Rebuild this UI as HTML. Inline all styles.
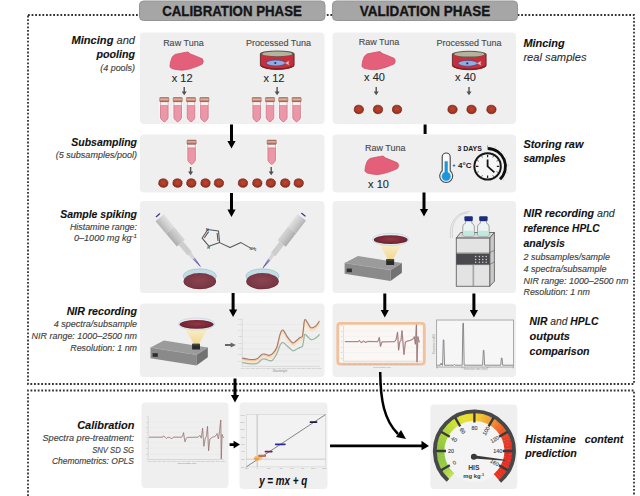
<!DOCTYPE html>
<html><head><meta charset="utf-8">
<style>
html,body{margin:0;padding:0;background:#fff;width:640px;height:496px;overflow:hidden}
svg{display:block}
text{font-family:"Liberation Sans",sans-serif}
.h{font-weight:bold;font-style:italic;font-size:11px;fill:#111;stroke:#111;stroke-width:0.1}
.hn{font-weight:normal;font-style:italic;fill:#333}
.s{font-style:italic;font-size:9px;fill:#424242;stroke:#424242;stroke-width:0.15}
.lab{font-size:9px;fill:#4a4a4a;stroke:#4a4a4a;stroke-width:0.12}
.x{font-size:11px;fill:#2a2a2a;stroke:#2a2a2a;stroke-width:0.12}
</style></head>
<body>
<svg width="640" height="496" viewBox="0 0 640 496">
<defs>
  <linearGradient id="pipg" x1="0" y1="0" x2="0" y2="1"><stop offset="0" stop-color="#e2e2e2"/><stop offset="0.45" stop-color="#cfcfcf"/><stop offset="1" stop-color="#b4b4b4"/></linearGradient><linearGradient id="pipg2" x1="0" y1="0" x2="0" y2="1"><stop offset="0" stop-color="#d6d6d6"/><stop offset="0.5" stop-color="#c4c4c4"/><stop offset="1" stop-color="#acacac"/></linearGradient>
  <linearGradient id="tipg" x1="0" y1="0" x2="1" y2="0"><stop offset="0" stop-color="#9a98d0"/><stop offset="1" stop-color="#3c3a8c"/></linearGradient>
  <radialGradient id="petg" cx="50%" cy="45%" r="60%"><stop offset="0" stop-color="#8a4450"/><stop offset="0.75" stop-color="#7a3844"/><stop offset="1" stop-color="#5e2834"/></radialGradient>
  <radialGradient id="dishg" cx="50%" cy="45%" r="60%"><stop offset="0" stop-color="#923646"/><stop offset="0.7" stop-color="#782634"/><stop offset="1" stop-color="#501a24"/></radialGradient>
  <linearGradient id="coneg" x1="0" y1="1" x2="0" y2="0"><stop offset="0" stop-color="#f2d88e"/><stop offset="1" stop-color="#faf1d8"/></linearGradient>
  <g id="pipette">
    <rect x="2.2" y="-7.8" width="1.7" height="15" fill="#f4f4f4" stroke="#dcdcdc" stroke-width="0.3"/>
    <rect x="0.2" y="-3" width="1.3" height="5.4" rx="0.5" fill="#3a3a88"/>
    <rect x="3.9" y="-5.4" width="16" height="10.8" fill="url(#pipg)"/>
    <rect x="19.9" y="-5.2" width="17" height="10.4" fill="url(#pipg2)"/>
    <rect x="36.9" y="-2.8" width="13.8" height="5.6" fill="#cdcdcd"/>
    <path d="M50.7 -1.8L57.2 -1.5V1.5L50.7 1.8Z" fill="#d4d4d4"/>
    <path d="M57.2 -1.4L67.6 -0.3V0.3L57.2 1.4Z" fill="url(#tipg)"/>
  </g>
  <g id="petri">
    <ellipse cx="0" cy="10" rx="17.6" ry="10.2" fill="#fff" opacity="0.5"/>
    <ellipse cx="0" cy="6.6" rx="16.6" ry="7.5" fill="#c2dde6" stroke="#98b8c6" stroke-width="0.6"/>
    <ellipse cx="0" cy="11.45" rx="16.3" ry="8.15" fill="url(#petg)"/>
  </g>
  <g id="nir">
    <!-- local origin = (340,225) of row3 device -->
    <path d="M4.6 37.9L18 31L61.9 37.9L50.5 45.1Z" fill="#9b9b9b"/>
    <path d="M4.6 37.9L50.5 45.1V55.9L4.6 48.7Z" fill="#8a8a8a"/>
    <path d="M50.5 45.1L61.9 37.9V47.7L50.5 55.9Z" fill="#727272"/>
    <path d="M4.6 37.9L50.5 45.1L61.9 37.9" fill="none" stroke="#a8a8a8" stroke-width="0.5"/>
    <rect x="6.7" y="43.6" width="5.2" height="3.6" fill="#2e2e2e"/>
    <path d="M37.6 16.5L63.6 16.5L53 34.2L47.8 34.2Z" fill="url(#coneg)"/>
    <ellipse cx="50.7" cy="14.4" rx="18.3" ry="6.1" fill="#e2eef4" stroke="#b7c7d6" stroke-width="0.5"/>
    <ellipse cx="50.7" cy="14.7" rx="16.9" ry="4.4" fill="url(#dishg)"/>
    <rect x="46.2" y="34.2" width="7.9" height="5.8" rx="0.6" fill="#2a2a2a"/>
    <rect x="46.2" y="34.2" width="7.9" height="1.6" fill="#454545"/>
  </g>

  <radialGradient id="ballg" cx="50%" cy="45%" r="55%"><stop offset="0" stop-color="#bf442e"/><stop offset="0.7" stop-color="#a63826"/><stop offset="1" stop-color="#7e2a1c"/></radialGradient>
  <linearGradient id="capg" x1="0" y1="0" x2="0" y2="1"><stop offset="0" stop-color="#a86a58"/><stop offset="0.45" stop-color="#e2b4a0"/><stop offset="1" stop-color="#9c5c4a"/></linearGradient>
  <g id="ball"><ellipse cx="0" cy="0" rx="5.6" ry="5" fill="#fff" opacity="0.5"/><path d="M-4.6 -0.6L-3.8 -3L-1.6 -4.2L0.6 -4.3L2.9 -3.6L4.5 -1.6L4.7 0.6L3.8 2.8L1.6 4.1L-0.8 4.2L-3 3.4L-4.5 1.6Z" fill="url(#ballg)" stroke="#72261a" stroke-width="0.7" stroke-linejoin="round"/></g>
  <g id="tube">
    <path d="M-5.2 -0.8H5.2V21L0 26L-5.2 21Z" fill="#fff" opacity="0.55"/>
    <path d="M-3.8 7.8V20.4C-3.8 21.3 -0.8 24.4 0 24.4C0.8 24.4 3.8 21.3 3.8 20.4V7.8Z" fill="#ec97a8" stroke="#c86a7c" stroke-width="0.7"/>
    <rect x="-3.8" y="4.2" width="7.6" height="3.6" fill="#fbf1f1" stroke="#d98b98" stroke-width="0.6"/>
    <rect x="-4.6" y="0" width="9.2" height="4.2" rx="0.6" fill="url(#capg)" stroke="#8c5444" stroke-width="0.5"/>
  </g>
  <g id="sarr" fill="#505050"><rect x="-0.7" y="0" width="1.4" height="5.2"/><path d="M-2.5 4.6H2.5L0 8.2Z"/></g>
  <g id="blob"><path d="M0 13.5L0.7 9.4L2.4 4.7L5.1 2.4L9.8 1.4L15.2 0.4L17.8 0L20.5 2L27.3 4.7L32.3 6.8L33.3 9.4L32.3 12.1L28.6 13.8L23.2 15.8L17.2 17.5L11.8 18.2L5.8 17.5L1.7 16.5L0 14.8Z" fill="#e4607a" stroke="#d04e66" stroke-width="0.8" stroke-linejoin="round"/></g>
  <g id="can">
    <path d="M0.4 3.4V15.2C3 18 10 19.2 17.25 19.2C24.5 19.2 31.5 18 34.1 15.2V3.4Z" fill="#c52f3b" stroke="#4a1a1e" stroke-width="0.8"/>
    <path d="M0.6 15.3C3 17.6 10 18.6 17.25 18.6C24.5 18.6 31.5 17.6 33.9 15.3" fill="none" stroke="#8a1e26" stroke-width="1.4"/>
    <ellipse cx="17.25" cy="3.4" rx="16.9" ry="3.2" fill="#5c5a4e"/>
    <ellipse cx="17.25" cy="3.7" rx="15" ry="2.4" fill="#b4b49e"/>
    <ellipse cx="15.8" cy="12.8" rx="9.6" ry="2.9" fill="#8eaee2" stroke="#34468a" stroke-width="0.6"/>
    <path d="M25 12.8L29.2 10.6L28.6 12.8L29.2 15Z" fill="#f0c0c0" stroke="#c07070" stroke-width="0.4"/>
    <circle cx="15.3" cy="12.8" r="1.1" fill="#223070"/>
  </g>

  <marker id="ah" viewBox="0 0 10 10" refX="0" refY="5" markerWidth="1" markerHeight="1"><path d="M0 0L10 5L0 10z"/></marker>
</defs>
<!-- dotted frames -->
<g fill="none" stroke="#333" stroke-width="1.8" stroke-dasharray="1.8 1.8">
  <path d="M28 15H634V384H28Z"/>
  <path d="M28 496V390.5H634V496"/>
</g>
<!-- tabs -->
<rect x="139.5" y="1" width="185.5" height="19.5" rx="4" fill="#a6a6a6" stroke="#959595" stroke-width="1"/>
<rect x="332.5" y="1" width="185" height="19.5" rx="4" fill="#a6a6a6" stroke="#959595" stroke-width="1"/>
<text x="232" y="16.4" text-anchor="middle" textLength="139.7" lengthAdjust="spacingAndGlyphs" style="font-weight:bold;font-size:15.2px;fill:#151515;stroke:#151515;stroke-width:0.35">CALIBRATION PHASE</text>
<text x="425" y="16.4" text-anchor="middle" textLength="130.6" lengthAdjust="spacingAndGlyphs" style="font-weight:bold;font-size:15.2px;fill:#151515;stroke:#151515;stroke-width:0.35">VALIDATION PHASE</text>

<!-- panels -->
<g fill="#efefef">
  <rect x="140" y="32.5" width="184.5" height="91.5" rx="4"/>
  <rect x="332.5" y="32.5" width="183.5" height="91.5" rx="4"/>
  <rect x="140" y="134.5" width="184.5" height="58" rx="4"/>
  <rect x="332.5" y="134.5" width="183.5" height="58" rx="4"/>
  <rect x="140" y="201" width="184.5" height="92" rx="4"/>
  <rect x="332.5" y="201" width="183.5" height="92" rx="4"/>
  <rect x="140" y="303.5" width="184.5" height="73.5" rx="4"/>
  <rect x="332.5" y="303.5" width="183.5" height="73.5" rx="4"/>
  <rect x="141.5" y="402.5" width="87" height="85.5" rx="4"/>
  <rect x="239.5" y="402.5" width="88" height="86.5" rx="4"/>
  <rect x="430.3" y="404.5" width="87" height="84.5" rx="4"/>
</g>

<!-- left labels -->
<g text-anchor="end">
  <text class="h" x="135" y="44" textLength="63.5" lengthAdjust="spacingAndGlyphs">Mincing <tspan class="hn">and</tspan></text>
  <text class="h" x="135" y="58" textLength="38.5" lengthAdjust="spacingAndGlyphs">pooling</text>
  <text class="s" x="135" y="71" textLength="34.75" lengthAdjust="spacingAndGlyphs">(4 pools)</text>
  <text class="h" x="137" y="145.5" textLength="65.7" lengthAdjust="spacingAndGlyphs">Subsampling</text>
  <text class="s" x="137" y="157.5" textLength="81.2" lengthAdjust="spacingAndGlyphs">(5 subsamples/pool)</text>
  <text class="h" x="137" y="217.7" textLength="76.8" lengthAdjust="spacingAndGlyphs">Sample spiking</text>
  <text class="s" x="137" y="229.6" textLength="67.1" lengthAdjust="spacingAndGlyphs">Histamine range:</text>
  <text class="s" x="137" y="241.3" textLength="63.1" lengthAdjust="spacingAndGlyphs">0–1000 mg kg<tspan dy="-3" font-size="6">-1</tspan></text>
  <text class="h" x="137" y="315" textLength="70.3" lengthAdjust="spacingAndGlyphs">NIR recording</text>
  <text class="s" x="137" y="327.2" textLength="83.25" lengthAdjust="spacingAndGlyphs">4 spectra/subsample</text>
  <text class="s" x="137" y="339.4" textLength="105.4" lengthAdjust="spacingAndGlyphs">NIR range: 1000–2500 nm</text>
  <text class="s" x="137" y="350.6" textLength="66.75" lengthAdjust="spacingAndGlyphs">Resolution: 1 nm</text>
  <text class="h" x="134.4" y="428.75" textLength="57.2" lengthAdjust="spacingAndGlyphs">Calibration</text>
  <text class="s" x="134" y="441" textLength="91.5" lengthAdjust="spacingAndGlyphs">Spectra pre-treatment:</text>
  <text class="s" x="134" y="452.75" textLength="41.8" lengthAdjust="spacingAndGlyphs">SNV SD SG</text>
  <text class="s" x="134" y="464.4" textLength="82.1" lengthAdjust="spacingAndGlyphs">Chemometrics: OPLS</text>
</g>
<!-- right labels -->
<g>
  <text class="h" x="523.4" y="46.5" textLength="41.3" lengthAdjust="spacingAndGlyphs">Mincing</text>
  <text class="h hn" x="523.4" y="61" style="font-weight:normal" textLength="63.2" lengthAdjust="spacingAndGlyphs">real samples</text>
  <text class="h" x="523.4" y="147.8" textLength="60" lengthAdjust="spacingAndGlyphs">Storing raw</text>
  <text class="h" x="523.4" y="162.25" textLength="42.2" lengthAdjust="spacingAndGlyphs">samples</text>
  <text class="h" x="523.5" y="217.1" textLength="91.3" lengthAdjust="spacingAndGlyphs">NIR recording <tspan class="hn">and</tspan></text>
  <text class="h" x="523.5" y="232.3" textLength="76.2" lengthAdjust="spacingAndGlyphs">reference HPLC</text>
  <text class="h" x="523.5" y="246.8" textLength="41.4" lengthAdjust="spacingAndGlyphs">analysis</text>
  <text class="s" x="523.5" y="260.1" textLength="86.5" lengthAdjust="spacingAndGlyphs">2 subsamples/sample</text>
  <text class="s" x="523.5" y="271.6" textLength="83.1" lengthAdjust="spacingAndGlyphs">4 spectra/subsample</text>
  <text class="s" x="523.5" y="283.7" textLength="104.9" lengthAdjust="spacingAndGlyphs">NIR range: 1000–2500 nm</text>
  <text class="s" x="523.5" y="294.8" textLength="66.4" lengthAdjust="spacingAndGlyphs">Resolution: 1 nm</text>
  <text class="h" x="529.6" y="325.3" textLength="68.8" lengthAdjust="spacingAndGlyphs">NIR <tspan class="hn">and</tspan> HPLC</text>
  <text class="h" x="529.6" y="340.3">outputs</text>
  <text class="h" x="529.6" y="355.3" textLength="60" lengthAdjust="spacingAndGlyphs">comparison</text>
  <text class="h" x="525.3" y="442.5" textLength="50.7" lengthAdjust="spacingAndGlyphs">Histamine</text><text class="h" x="623.4" y="442.5" text-anchor="end" textLength="38.6" lengthAdjust="spacingAndGlyphs">content</text>
  <text class="h" x="525.3" y="456.6" textLength="51.6" lengthAdjust="spacingAndGlyphs">prediction</text>
</g>

<!-- panel labels -->
<g class="lab" text-anchor="middle">
  <text class="lab" x="183.4" y="45.6">Raw Tuna</text>
  <text class="lab" x="278.5" y="45.6">Processed Tuna</text>
  <text class="lab" x="379" y="45.2">Raw Tuna</text>
  <text class="lab" x="469" y="45.6">Processed Tuna</text>
  <text class="lab" x="385.2" y="151">Raw Tuna</text>
</g>
<g text-anchor="middle">
  <text class="x" x="182.2" y="81.6">x 12</text>
  <text class="x" x="274" y="81.6">x 12</text>
  <text class="x" x="374.5" y="81.2">x 40</text>
  <text class="x" x="465.5" y="81.2">x 40</text>
  <text class="x" x="378.5" y="187.6">x 10</text>
</g>


<!-- row1 icons -->
<use href="#blob" transform="translate(170 52)"/>
<use href="#blob" transform="translate(362 51.6)"/>
<use href="#blob" transform="translate(365 156) scale(1.01 1.02)"/>
<use href="#can" transform="translate(260 50.2)"/>
<use href="#can" transform="translate(452 50.5)"/>
<use href="#sarr" transform="translate(184.2 87)"/>
<use href="#sarr" transform="translate(277.1 87)"/>
<use href="#sarr" transform="translate(376.2 87)"/>
<use href="#sarr" transform="translate(469 87)"/>
<use href="#sarr" transform="translate(190.6 167)"/>
<use href="#sarr" transform="translate(271.2 167)"/>
<g>
<use href="#tube" transform="translate(164.3 97.5)"/>
<use href="#tube" transform="translate(177.7 97.5)"/>
<use href="#tube" transform="translate(191 97.5)"/>
<use href="#tube" transform="translate(204.4 97.5)"/>
<use href="#tube" transform="translate(256.7 97.5)"/>
<use href="#tube" transform="translate(270 97.5)"/>
<use href="#tube" transform="translate(283.3 97.5)"/>
<use href="#tube" transform="translate(296.6 97.5)"/>
<use href="#tube" transform="translate(191.6 140)"/>
<use href="#tube" transform="translate(271.7 140)"/>
</g>
<g>
<use href="#ball" transform="translate(358.8 109.5)"/>
<use href="#ball" transform="translate(378 109.5)"/>
<use href="#ball" transform="translate(397 109.5)"/>
<use href="#ball" transform="translate(452.5 109.5)"/>
<use href="#ball" transform="translate(471.5 109.5)"/>
<use href="#ball" transform="translate(491.4 109.5)"/>
<use href="#ball" transform="translate(163.3 183.1)"/>
<use href="#ball" transform="translate(177.5 183.1)"/>
<use href="#ball" transform="translate(191.3 183.1)"/>
<use href="#ball" transform="translate(205.5 183.1)"/>
<use href="#ball" transform="translate(218.9 183.1)"/>
<use href="#ball" transform="translate(242.9 183.1)"/>
<use href="#ball" transform="translate(257.3 183.1)"/>
<use href="#ball" transform="translate(270.8 183.1)"/>
<use href="#ball" transform="translate(285.2 183.1)"/>
<use href="#ball" transform="translate(298.7 183.1)"/>
</g>

<!-- thermometer -->
<g>
  <path d="M442.2 157V170.8A6.5 6.5 0 1 0 450.2 170.8V157A4 4 0 0 0 442.2 157Z" fill="#fafafa" stroke="#4a4a4a" stroke-width="1.15"/>
  <circle cx="446.2" cy="176.4" r="5.2" fill="#bfe4f6"/>
  <rect x="444.3" y="160.8" width="3.8" height="14" fill="#bfe4f6"/>
  <circle cx="446.2" cy="176.4" r="4.3" fill="#1e96dc"/>
  <rect x="444.7" y="161.4" width="3" height="14" fill="#1e96dc"/>
</g>
<text x="452.6" y="166.6" style="font-weight:bold;font-size:5px;fill:#1a1a1a">+</text><text x="458" y="167.5" style="font-weight:bold;font-size:7.9px;fill:#1a1a1a" textLength="13.4" lengthAdjust="spacingAndGlyphs">4°C</text>
<text x="457.4" y="151.3" style="font-weight:bold;font-size:7.7px;fill:#1a1a1a" textLength="24.5" lengthAdjust="spacingAndGlyphs">3 DAYS</text>
<!-- clock -->
<g transform="translate(487.6 166.4)">
  <circle r="13.2" fill="#f6f6f6" stroke="#161616" stroke-width="2"/>
  <g stroke="#222" stroke-width="1">
    <path d="M0 -11.6V-9.2M0 11.6V9.2M-11.6 0H-9.2M11.6 0H9.2" stroke-width="1.2"/>
    <path d="M5.9 -10.2L5.2 -9M10.2 -5.9L9 -5.2M10.2 5.9L9 5.2M5.9 10.2L5.2 9M-5.9 10.2L-5.2 9M-10.2 5.9L-9 5.2M-10.2 -5.9L-9 -5.2M-5.9 -10.2L-5.2 -9" stroke-width="0.8"/>
  </g>
  <path d="M0 -6.8V0L6.8 6" fill="none" stroke="#161616" stroke-width="1.8" stroke-linejoin="round"/>
  <path d="M0.2 -17.9A17.9 17.9 0 0 1 12.4 12.9" fill="none" stroke="#0d0d0d" stroke-width="2.8"/>
  <path d="M0 -21V-16.8" stroke="#888" stroke-width="0.8"/>
  <g stroke="#bbb" stroke-width="0.7">
    <path d="M7.2 -18.5L7.8 -20M13.4 -14.4L14.6 -15.6M17.6 -8L19 -8.6M19.7 -1L21.2 -1M19 6.2L20.4 6.7M15.4 13.2L16.5 14.2"/>
  </g>
</g>
<!-- pipettes -->
<use href="#pipette" transform="translate(157.2 214.8) rotate(50.1)"/>
<use href="#pipette" transform="translate(304.1 214.2) rotate(127.5) scale(1 -1)"/>
<use href="#petri" transform="translate(199.8 269.7)"/>
<use href="#petri" transform="translate(262.5 269.7)"/>
<!-- histamine -->
<g fill="none" stroke="#555" stroke-width="1.05" stroke-linejoin="round">
  <path d="M207.8 229.5L218.5 231.1L219.6 242.6L208.9 246.2L202.1 238.2Z"/>
  <path d="M208.6 231.6L204.3 238"/>
  <path d="M217.1 233L218 241"/>
  <path d="M219.6 242.6L230 247.5L240.9 242.6L249.8 247.6"/>
</g>
<g style="font-size:3.6px;fill:#444;font-weight:bold">
  <text x="206" y="230.8">N</text>
  <text x="207.3" y="248.8">H</text>
  <text x="249.6" y="250.2">NH<tspan font-size="2.6" dy="0.8">2</tspan></text>
</g>
<!-- NIR devices -->
<use href="#nir" transform="translate(340 225)"/>
<use href="#nir" transform="translate(145.9 309.6)"/>
<!-- HPLC -->
<g>
  <g fill="none" stroke="#c4c4c4" stroke-width="0.7">
    <path d="M468 213C456 214 451 224 452.5 238"/>
    <path d="M470 211.5C455 212 449 224 450.5 238"/>
  </g>
  <path d="M456.25 238.1L460.6 232.5H494.4L489.75 238.1Z" fill="#d6d6d6" stroke="#555" stroke-width="0.8" stroke-linejoin="round"/>
  <path d="M489.75 238.1L494.4 232.5V281.3L489.75 286.25Z" fill="#c9c9c9" stroke="#555" stroke-width="0.8" stroke-linejoin="round"/>
  <rect x="456.25" y="238.1" width="33.5" height="48.15" fill="#e3e3e3" stroke="#555" stroke-width="0.8"/>
  <rect x="456.25" y="253.6" width="33.5" height="10.9" fill="#4a4a4e"/>
  <path d="M456.25 253H489.75M456.25 264.6H489.75M489.75 252.6L494.4 250.4M489.75 264.6L494.4 261.8" stroke="#555" stroke-width="0.6"/>
  <path d="M473.2 264.6V286.2" stroke="#6a6a6a" stroke-width="0.8"/><path d="M474.2 264.6V286.2" stroke="#c8c8c8" stroke-width="0.6"/>
  <g fill="#cfcfd4">
    <circle cx="475.6" cy="256.5" r="0.75"/><circle cx="479.4" cy="256.5" r="0.75"/><circle cx="482.8" cy="256.5" r="0.75"/><circle cx="486.2" cy="256.5" r="0.75"/>
    <circle cx="475.6" cy="259.4" r="0.75"/><circle cx="479.4" cy="259.4" r="0.75"/><circle cx="482.8" cy="259.4" r="0.75"/><circle cx="486.2" cy="259.4" r="0.75"/>
    <circle cx="475.6" cy="262.3" r="0.75"/><circle cx="479.4" cy="262.3" r="0.75"/><circle cx="482.8" cy="262.3" r="0.75"/><circle cx="486.2" cy="262.3" r="0.75"/>
  </g>
  <g id="bottle">
    <path d="M465.6 221V223.2C463.5 224 462.8 225.5 462.8 227V234.2C462.8 235.3 463.5 236 464.6 236H472.6C473.6 236 474.3 235.3 474.3 234.2V227C474.3 225.5 473.6 224 471.8 223.2V221Z" fill="#eef4f4" stroke="#6a6a6a" stroke-width="0.6"/>
    <path d="M463.1 230.8H474V234.2C474 235.1 473.4 235.7 472.6 235.7H464.6C463.7 235.7 463.1 235.1 463.1 234.2Z" fill="#bfeadf"/>
    <rect x="464.4" y="216.2" width="8.4" height="4.9" rx="1" fill="#1e2a80"/>
  </g>
  <use href="#bottle" transform="translate(14.8 0)"/>
</g>
<!-- charts -->
<g transform="translate(236 310) scale(0.1375)">
<path d="M45 105H610M45 150H610M45 195H610M45 240H610M45 282H610M45 325H610M45 370H610" stroke="#e2e2e2" stroke-width="3" fill="none"/>
<path d="M45 60V410H610" stroke="#c8c8c8" stroke-width="4" fill="none"/>
<g style="font-size:16px;fill:#aaa" text-anchor="end"><text x='38' y='70'>1.8</text><text x='38' y='110'>1.6</text><text x='38' y='155'>1.4</text><text x='38' y='200'>1.2</text><text x='38' y='245'>1.0</text><text x='38' y='287'>0.8</text><text x='38' y='330'>0.6</text><text x='38' y='375'>0.4</text></g>
<g style="font-size:14px;fill:#aaa" text-anchor="middle"><text x='50' y='430'>1000</text><text x='87' y='430'>1100</text><text x='124' y='430'>1200</text><text x='161' y='430'>1300</text><text x='198' y='430'>1400</text><text x='235' y='430'>1500</text><text x='272' y='430'>1600</text><text x='309' y='430'>1700</text><text x='346' y='430'>1800</text><text x='383' y='430'>1900</text><text x='420' y='430'>2000</text><text x='457' y='430'>2100</text><text x='494' y='430'>2200</text><text x='531' y='430'>2300</text><text x='568' y='430'>2400</text><text x='605' y='430'>2500</text></g>
<text x="320" y="448" text-anchor="middle" style="font-size:20px;fill:#888">Wavelength</text>
<g fill="none" stroke-linejoin="round" stroke-linecap="round">
<path d="M48 368C55.0 369.3 76.3 374.3 90 376C103.7 377.7 118.3 379.3 130 378C141.7 376.7 150.0 374.3 160 368C170.0 361.7 180.8 344.7 190 340C199.2 335.3 206.7 338.7 215 340C223.3 341.3 231.7 348.7 240 348C248.3 347.3 255.8 345.2 265 336C274.2 326.8 286.2 315.2 295 293C303.8 270.8 311.7 224.2 318 203C324.3 181.8 328.0 171.5 333 166C338.0 160.5 341.8 163.0 348 170C354.2 177.0 362.2 196.3 370 208C377.8 219.7 387.5 231.7 395 240C402.5 248.3 407.5 258.0 415 258C422.5 258.0 431.7 246.7 440 240C448.3 233.3 457.8 223.3 465 218C472.2 212.7 478.5 221.3 483 208C487.5 194.7 489.5 157.2 492 138C494.5 118.8 495.3 101.0 498 93C500.7 85.0 503.5 85.8 508 90C512.5 94.2 518.8 108.7 525 118C531.2 127.3 538.3 141.8 545 146C551.7 150.2 558.3 145.7 565 143C571.7 140.3 578.3 137.2 585 130C591.7 122.8 601.7 105.0 605 100" stroke="#f7e3cb" stroke-width="18"/>
<path d="M48 382C55.0 383.3 76.3 388.3 90 390C103.7 391.7 118.3 392.8 130 392C141.7 391.2 150.0 390.7 160 385C170.0 379.3 180.8 362.7 190 358C199.2 353.3 206.7 355.3 215 357C223.3 358.7 231.7 366.7 240 368C248.3 369.3 255.8 372.7 265 365C274.2 357.3 286.2 339.2 295 322C303.8 304.8 311.7 276.0 318 262C324.3 248.0 328.0 241.7 333 238C338.0 234.3 341.8 236.3 348 240C354.2 243.7 362.2 253.0 370 260C377.8 267.0 387.5 275.7 395 282C402.5 288.3 407.5 297.5 415 298C422.5 298.5 431.7 289.3 440 285C448.3 280.7 457.8 275.3 465 272C472.2 268.7 478.5 273.7 483 265C487.5 256.3 489.5 233.8 492 220C494.5 206.2 495.3 188.7 498 182C500.7 175.3 503.5 177.3 508 180C512.5 182.7 518.8 192.2 525 198C531.2 203.8 538.3 212.7 545 215C551.7 217.3 558.3 214.5 565 212C571.7 209.5 578.3 205.3 585 200C591.7 194.7 601.7 183.3 605 180" stroke="#9ab4a0" stroke-width="9"/>
<path d="M48 358C55.0 359.3 76.3 364.3 90 366C103.7 367.7 118.3 369.3 130 368C141.7 366.7 150.0 364.3 160 358C170.0 351.7 180.8 334.7 190 330C199.2 325.3 206.7 328.7 215 330C223.3 331.3 231.7 338.7 240 338C248.3 337.3 255.8 335.2 265 326C274.2 316.8 286.2 305.2 295 283C303.8 260.8 311.7 214.2 318 193C324.3 171.8 328.0 161.5 333 156C338.0 150.5 341.8 153.0 348 160C354.2 167.0 362.2 186.3 370 198C377.8 209.7 387.5 221.7 395 230C402.5 238.3 407.5 248.0 415 248C422.5 248.0 431.7 236.7 440 230C448.3 223.3 457.8 213.3 465 208C472.2 202.7 478.5 211.3 483 198C487.5 184.7 489.5 147.2 492 128C494.5 108.8 495.3 91.0 498 83C500.7 75.0 503.5 75.8 508 80C512.5 84.2 518.8 98.7 525 108C531.2 117.3 538.3 131.8 545 136C551.7 140.2 558.3 135.7 565 133C571.7 130.3 578.3 127.2 585 120C591.7 112.8 601.7 95.0 605 90" stroke="#eec092" stroke-width="7"/>
<path d="M48 350C55.0 351.3 76.3 356.3 90 358C103.7 359.7 118.3 361.3 130 360C141.7 358.7 150.0 356.3 160 350C170.0 343.7 180.8 326.7 190 322C199.2 317.3 206.7 320.7 215 322C223.3 323.3 231.7 330.7 240 330C248.3 329.3 255.8 327.2 265 318C274.2 308.8 286.2 297.2 295 275C303.8 252.8 311.7 206.2 318 185C324.3 163.8 328.0 153.5 333 148C338.0 142.5 341.8 145.0 348 152C354.2 159.0 362.2 178.3 370 190C377.8 201.7 387.5 213.7 395 222C402.5 230.3 407.5 240.0 415 240C422.5 240.0 431.7 228.7 440 222C448.3 215.3 457.8 205.3 465 200C472.2 194.7 478.5 203.3 483 190C487.5 176.7 489.5 139.2 492 120C494.5 100.8 495.3 83.0 498 75C500.7 67.0 503.5 67.8 508 72C512.5 76.2 518.8 90.7 525 100C531.2 109.3 538.3 123.8 545 128C551.7 132.2 558.3 127.7 565 125C571.7 122.3 578.3 119.2 585 112C591.7 104.8 601.7 87.0 605 82" stroke="#a47a6e" stroke-width="8"/>
</g></g>
<g transform="translate(140 400) scale(0.18146)">
<path d="M45 120H462M45 150H462M45 178H462M45 235H462M45 265H462M45 298H462" stroke="#e6e6e6" stroke-width="2.5" fill="none"/>
<path d="M45 90V328H462" stroke="#c8c8c8" stroke-width="3.5" fill="none"/>
<g style="font-size:11px;fill:#aaa" text-anchor="end"><text x='40' y='96'>4</text><text x='40' y='124'>3</text><text x='40' y='154'>2</text><text x='40' y='182'>1</text><text x='40' y='209'>0</text><text x='40' y='239'>-1</text><text x='40' y='269'>-2</text><text x='40' y='302'>-3</text><text x='40' y='332'>-4</text></g>
<g style="font-size:10px;fill:#aaa" text-anchor="middle"><text x='52' y='340'>1000</text><text x='79' y='340'>1100</text><text x='106' y='340'>1200</text><text x='133' y='340'>1300</text><text x='160' y='340'>1400</text><text x='187' y='340'>1500</text><text x='214' y='340'>1600</text><text x='241' y='340'>1700</text><text x='268' y='340'>1800</text><text x='295' y='340'>1900</text><text x='322' y='340'>2000</text><text x='349' y='340'>2100</text><text x='376' y='340'>2200</text><text x='403' y='340'>2300</text><text x='430' y='340'>2400</text><text x='457' y='340'>2500</text></g>
<text x="258" y="352" text-anchor="middle" style="font-size:14px;fill:#888">Wavelength (nm)</text>
<path d="M50 205L125 205L130 198L138 205L145 212L153 206L160 205L168 210L175 212L185 205L230 205L236 195L240 180L245 215L248 230L255 210L262 206L320 205L330 195L338 210L345 155L352 255L360 210L366 200L372 145L378 280L385 215L400 205L415 200L425 185L432 215L438 175L445 110L448 325L452 190L458 205L462 210" fill="none" stroke="#c89898" stroke-width="5" stroke-linejoin="round" opacity="0.6"/>
<path d="M50 205L125 205L130 198L138 205L145 212L153 206L160 205L168 210L175 212L185 205L230 205L236 195L240 180L245 215L248 230L255 210L262 206L320 205L330 195L338 210L345 155L352 255L360 210L366 200L372 145L378 280L385 215L400 205L415 200L425 185L432 215L438 175L445 110L448 325L452 190L458 205L462 210" fill="none" stroke="#86706c" stroke-width="3.2" stroke-linejoin="round"/>
</g>
<g transform="translate(333 310) scale(0.14843)">
<rect x="32" y="90" width="583" height="275" rx="18" fill="#faf7f5" stroke="#f2c19c" stroke-width="19"/>
<path d="M70 105V345H600" stroke="#c8c8c8" stroke-width="4" fill="none"/>
<path d="M70 140H600M70 178H600M70 250H600M70 288H600" stroke="#ececec" stroke-width="3"/>
<g style="font-size:14px;fill:#aaa" text-anchor="end"><text x='62' y='110'>3</text><text x='62' y='145'>2</text><text x='62' y='183'>1</text><text x='62' y='218'>0</text><text x='62' y='255'>-1</text><text x='62' y='293'>-2</text><text x='62' y='330'>-3</text></g>
<g style="font-size:12px;fill:#aaa" text-anchor="middle"><text x='75' y='368'>1000</text><text x='110' y='368'>1100</text><text x='145' y='368'>1200</text><text x='180' y='368'>1300</text><text x='215' y='368'>1400</text><text x='250' y='368'>1500</text><text x='285' y='368'>1600</text><text x='320' y='368'>1700</text><text x='355' y='368'>1800</text><text x='390' y='368'>1900</text><text x='425' y='368'>2000</text><text x='460' y='368'>2100</text><text x='495' y='368'>2200</text><text x='530' y='368'>2300</text><text x='565' y='368'>2400</text></g>
<text x="330" y="392" text-anchor="middle" style="font-size:16px;fill:#999">Wavelength (nm)</text>
<path d="M80 213L170 213L178 206L190 220L205 210L220 218L235 212L300 213L305 205L312 185L320 245L330 215L415 213L425 200L435 150L442 270L450 215L458 205L465 140L478 300L488 215L500 210L520 205L540 195L548 180L555 230L562 100L566 350L572 180L580 215L585 213" fill="none" stroke="#c89090" stroke-width="9" stroke-linejoin="round" opacity="0.6"/>
<path d="M80 213L170 213L178 206L190 220L205 210L220 218L235 212L300 213L305 205L312 185L320 245L330 215L415 213L425 200L435 150L442 270L450 215L458 205L465 140L478 300L488 215L500 210L520 205L540 195L548 180L555 230L562 100L566 350L572 180L580 215L585 213" fill="none" stroke="#846e6c" stroke-width="4.5" stroke-linejoin="round"/>
</g>
<g transform="translate(428 310) scale(0.13906)">
<rect x="62" y="72" width="553" height="338" fill="#f6f6f6" stroke="#9a9a9a" stroke-width="6"/>
<path d="M66 397L88 397L95 382L100 397L105 397L110 215L114 215L119 397L185 397L190 392L195 397L246 397L251 95L255 95L260 397L393 397L398 290L402 290L407 397L523 397L528 345L532 345L537 397L612 397" fill="none" stroke="#808080" stroke-width="6.5" stroke-linejoin="round"/>
<path d="M65 410V420M245 410V420M430 410V420M612 410V420" stroke="#888" stroke-width="5"/>
<text x="342" y="432" text-anchor="middle" style="font-size:19px;fill:#999">Retention time (min)</text>
<text transform="translate(50 245) rotate(-90)" text-anchor="middle" style="font-size:19px;fill:#999">Response (mAU)</text>
</g>
<g transform="translate(240 405) scale(0.14063)">
<rect x="45" y="68" width="563" height="372" fill="#f2f2f2" stroke="#d0d0d0" stroke-width="4"/>
<path d="M122 68V440" stroke="#9a9a9a" stroke-width="4"/>
<path d="M45 385H608" stroke="#b0b0b0" stroke-width="4"/>
<path d="M45 440L608 68" stroke="#707070" stroke-width="6"/>
<g style="font-size:14px;fill:#999" text-anchor="end"><text x='32' y='75'>1400</text><text x='32' y='127'>1200</text><text x='32' y='180'>1000</text><text x='32' y='233'>800</text><text x='32' y='285'>600</text><text x='32' y='337'>400</text><text x='32' y='390'>200</text><text x='32' y='445'>-200</text></g>
<g style="font-size:14px;fill:#999" text-anchor="middle"><text x='45' y='458'>-200</text><text x='122' y='458'>0</text><text x='205' y='458'>200</text><text x='290' y='458'>400</text><text x='370' y='458'>600</text><text x='445' y='458'>800</text><text x='520' y='458'>1000</text><text x='600' y='458'>1200</text></g>
<ellipse cx="128" cy="378" rx="30" ry="17" fill="#f6c070" opacity="0.9"/>
<ellipse cx="118" cy="384" rx="18" ry="10" fill="#e8a040" opacity="0.9"/>
<rect x="130" y="354" width="55" height="14" rx="6" fill="#b84a28"/>
<rect x="135" y="357" width="45" height="8" fill="#e07a40"/>
<rect x="175" y="326" width="57" height="12" rx="5" fill="#7a2060"/>
<rect x="248" y="274" width="77" height="12" rx="5" fill="#2a2aa0"/>
<rect x="495" y="116" width="55" height="12" rx="5" fill="#1a1a40"/>
</g>
<!-- gauge -->
<g><circle cx="474.4" cy="451.0" r="31" fill="#f4f4f4"/><g fill="none" stroke-width="8"><path d="M451.65 476.27A34.0 34.0 0 0 1 449.35 473.99" stroke="rgb(193, 225, 87)"/><path d="M449.55 474.20A34.0 34.0 0 0 1 447.45 471.73" stroke="rgb(181, 219, 82)"/><path d="M447.63 471.97A34.0 34.0 0 0 1 445.76 469.32" stroke="rgb(168, 213, 77)"/><path d="M445.92 469.57A34.0 34.0 0 0 1 444.28 466.77" stroke="rgb(156, 208, 72)"/><path d="M444.42 467.04A34.0 34.0 0 0 1 443.03 464.11" stroke="rgb(149, 204, 69)"/><path d="M443.14 464.38A34.0 34.0 0 0 1 442.01 461.35" stroke="rgb(147, 203, 67)"/><path d="M442.10 461.63A34.0 34.0 0 0 1 441.24 458.50" stroke="rgb(145, 201, 66)"/><path d="M441.31 458.79A34.0 34.0 0 0 1 440.71 455.61" stroke="rgb(143, 200, 65)"/><path d="M440.75 455.90A34.0 34.0 0 0 1 440.44 452.67" stroke="rgb(142, 199, 63)"/><path d="M440.46 452.97A34.0 34.0 0 0 1 440.42 449.73" stroke="rgb(140, 198, 62)"/><path d="M440.41 450.03A34.0 34.0 0 0 1 440.66 446.79" stroke="rgb(144, 199, 61)"/><path d="M440.63 447.09A34.0 34.0 0 0 1 441.15 443.89" stroke="rgb(149, 202, 61)"/><path d="M441.09 444.18A34.0 34.0 0 0 1 441.89 441.04" stroke="rgb(154, 204, 61)"/><path d="M441.81 441.32A34.0 34.0 0 0 1 442.88 438.26" stroke="rgb(159, 206, 60)"/><path d="M442.77 438.54A34.0 34.0 0 0 1 444.10 435.58" stroke="rgb(163, 209, 60)"/><path d="M443.96 435.85A34.0 34.0 0 0 1 445.54 433.02" stroke="rgb(168, 211, 60)"/><path d="M445.39 433.27A34.0 34.0 0 0 1 447.21 430.59" stroke="rgb(175, 213, 59)"/><path d="M447.03 430.83A34.0 34.0 0 0 1 449.08 428.31" stroke="rgb(183, 216, 58)"/><path d="M448.88 428.53A34.0 34.0 0 0 1 451.13 426.21" stroke="rgb(191, 218, 57)"/><path d="M450.92 426.41A34.0 34.0 0 0 1 453.37 424.29" stroke="rgb(198, 221, 56)"/><path d="M453.14 424.47A34.0 34.0 0 0 1 455.76 422.57" stroke="rgb(206, 223, 55)"/><path d="M455.51 422.73A34.0 34.0 0 0 1 458.29 421.06" stroke="rgb(212, 224, 54)"/><path d="M458.03 421.20A34.0 34.0 0 0 1 460.94 419.78" stroke="rgb(218, 224, 53)"/><path d="M460.67 419.90A34.0 34.0 0 0 1 463.69 418.73" stroke="rgb(224, 225, 52)"/><path d="M463.41 418.82A34.0 34.0 0 0 1 466.52 417.92" stroke="rgb(230, 225, 52)"/><path d="M466.24 417.99A34.0 34.0 0 0 1 469.42 417.37" stroke="rgb(233, 222, 52)"/><path d="M469.12 417.41A34.0 34.0 0 0 1 472.35 417.06" stroke="rgb(236, 217, 52)"/><path d="M472.05 417.08A34.0 34.0 0 0 1 475.29 417.01" stroke="rgb(238, 211, 52)"/><path d="M474.99 417.01A34.0 34.0 0 0 1 478.23 417.22" stroke="rgb(241, 206, 52)"/><path d="M477.93 417.18A34.0 34.0 0 0 1 481.14 417.67" stroke="rgb(242, 197, 51)"/><path d="M480.85 417.62A34.0 34.0 0 0 1 484.00 418.38" stroke="rgb(242, 186, 51)"/><path d="M483.71 418.30A34.0 34.0 0 0 1 486.78 419.33" stroke="rgb(242, 176, 50)"/><path d="M486.51 419.23A34.0 34.0 0 0 1 489.48 420.53" stroke="rgb(242, 165, 50)"/><path d="M489.21 420.39A34.0 34.0 0 0 1 492.06 421.94" stroke="rgb(241, 153, 49)"/><path d="M491.80 421.79A34.0 34.0 0 0 1 494.50 423.58" stroke="rgb(240, 141, 47)"/><path d="M494.26 423.41A34.0 34.0 0 0 1 496.80 425.42" stroke="rgb(239, 128, 46)"/><path d="M496.58 425.23A34.0 34.0 0 0 1 498.93 427.46" stroke="rgb(238, 116, 45)"/><path d="M498.72 427.24A34.0 34.0 0 0 1 500.88 429.67" stroke="rgb(237, 105, 44)"/><path d="M500.69 429.44A34.0 34.0 0 0 1 502.62 432.04" stroke="rgb(235, 94, 42)"/><path d="M502.46 431.79A34.0 34.0 0 0 1 504.16 434.55" stroke="rgb(234, 84, 41)"/><path d="M504.01 434.29A34.0 34.0 0 0 1 505.47 437.19" stroke="rgb(232, 74, 40)"/><path d="M505.35 436.92A34.0 34.0 0 0 1 506.55 439.93" stroke="rgb(231, 66, 39)"/><path d="M506.45 439.65A34.0 34.0 0 0 1 507.38 442.75" stroke="rgb(230, 61, 38)"/><path d="M507.31 442.47A34.0 34.0 0 0 1 507.97 445.64" stroke="rgb(229, 56, 37)"/><path d="M507.93 445.35A34.0 34.0 0 0 1 508.31 448.56" stroke="rgb(229, 51, 37)"/><path d="M508.29 448.27A34.0 34.0 0 0 1 508.40 451.51" stroke="rgb(228, 46, 36)"/><path d="M508.40 451.21A34.0 34.0 0 0 1 508.22 454.45" stroke="rgb(228, 44, 35)"/><path d="M508.25 454.15A34.0 34.0 0 0 1 507.80 457.36" stroke="rgb(228, 45, 35)"/><path d="M507.85 457.07A34.0 34.0 0 0 1 507.12 460.23" stroke="rgb(229, 46, 35)"/><path d="M507.20 459.94A34.0 34.0 0 0 1 506.20 463.03" stroke="rgb(229, 46, 35)"/><path d="M506.31 462.75A34.0 34.0 0 0 1 505.04 465.73" stroke="rgb(229, 47, 35)"/><path d="M505.17 465.46A34.0 34.0 0 0 1 503.65 468.33" stroke="rgb(230, 48, 34)"/><path d="M503.80 468.07A34.0 34.0 0 0 1 502.04 470.80" stroke="rgb(230, 49, 34)"/><path d="M502.21 470.55A34.0 34.0 0 0 1 500.23 473.11" stroke="rgb(231, 50, 34)"/><path d="M500.42 472.89A34.0 34.0 0 0 1 498.22 475.27" stroke="rgb(231, 50, 34)"/><path d="M498.43 475.06A34.0 34.0 0 0 1 496.25 477.05" stroke="rgb(231, 51, 34)"/></g><path d="M447.90 480.43A39.6 39.6 0 1 1 499.85 481.34" fill="none" stroke="#484848" stroke-width="3.8"/><path d="M449.80 465.20L441.06 470.25M446.00 451.00L435.90 451.00M449.80 436.80L441.06 431.75M460.20 426.40L455.15 417.66M474.40 422.60L474.40 412.50M488.60 426.40L493.65 417.66M499.00 436.80L507.74 431.75M502.80 451.00L512.90 451.00M499.00 465.20L507.74 470.25" stroke="#3a3a3a" stroke-width="2.3"/><g style="font-size:5.4px;fill:#444;stroke:#444;stroke-width:0.12" text-anchor="middle" dominant-baseline="central"><text x="454.22" y="462.65" transform="rotate(-30 454.22 462.65)">0</text><text x="451.10" y="451.00" transform="rotate(0 451.10 451.00)">20</text><text x="454.22" y="439.35" transform="rotate(30 454.22 439.35)">40</text><text x="462.75" y="430.82" transform="rotate(60 462.75 430.82)">60</text><text x="474.40" y="427.70" transform="rotate(0 474.40 427.70)">80</text><text x="486.05" y="430.82" transform="rotate(-60 486.05 430.82)">100</text><text x="494.58" y="439.35" transform="rotate(-30 494.58 439.35)">120</text><text x="497.70" y="451.00" transform="rotate(0 497.70 451.00)">140</text><text x="494.58" y="462.65" transform="rotate(30 494.58 462.65)">160</text></g>
<path d="M473.6 455.3L505.5 459.8L505.4 460.8L473.6 458.5Z" fill="#3a3a3a"/>
<circle cx="473.9" cy="456.7" r="3" fill="#3a3a3a"/>
<text x="473.85" y="469.6" text-anchor="middle" textLength="11.3" lengthAdjust="spacingAndGlyphs" style="font-size:7.6px;font-weight:bold;fill:#3a3a3a">HIS</text>
<text x="473.7" y="477.9" text-anchor="middle" textLength="20.8" lengthAdjust="spacingAndGlyphs" style="font-size:6.1px;fill:#3a3a3a;font-weight:bold">mg kg<tspan font-size="4" dy="-2.2">-1</tspan></text>
</g>
<text x="283.2" y="484.6" text-anchor="middle" textLength="48" lengthAdjust="spacingAndGlyphs" class="h" style="font-size:12px">y = mx + q</text>
<path d="M225 344H230.7V342.6L235.9 345L230.7 347.4V346.1H225Z" fill="#666"/>
<!--ICONS4-->


<!-- black arrows -->
<g fill="#000" stroke="none">
  <path id="darr" d="M-1.5 0H1.5V16.5H4.1L0 24L-4.1 16.5H-1.5Z" transform="translate(231.5 124.5)"/>
  <use href="#darr" transform="translate(0 68.5)"/>
  <path d="M-1.5 0H1.5V16.5H4.1L0 24L-4.1 16.5H-1.5Z" transform="translate(233.1 293)"/>
  <path d="M-1.5 0H1.5V16.5H4.1L0 24L-4.1 16.5H-1.5Z" transform="translate(235 378.5)"/>
  <rect x="423.6" y="124.5" width="3" height="9.5"/>
  <path d="M-1.5 0H1.5V16.5H4.1L0 24L-4.1 16.5H-1.5Z" transform="translate(424 192.5)"/>
  <path d="M-1.5 0H1.5V16.5H4.1L0 24L-4.1 16.5H-1.5Z" transform="translate(384.8 293.5)"/>
  <path d="M-1.5 0H1.5V16.5H4.1L0 24L-4.1 16.5H-1.5Z" transform="translate(473.9 293.5)"/>
  <!-- right arrows -->
  <path d="M229.6 443.3H233.6V440.8L240 444.6L233.6 448.4V445.9H229.6Z"/>
  <path d="M330 444.5H421.5V440.8L429 446L421.5 450.2V447.3H330Z"/>
</g>
<path d="M380.2 372C380.5 400 384 420 398 434" fill="none" stroke="#000" stroke-width="2.5"/>
<path d="M396 437L406 439L401 430Z" fill="#000"/>

</svg>
</body></html>
